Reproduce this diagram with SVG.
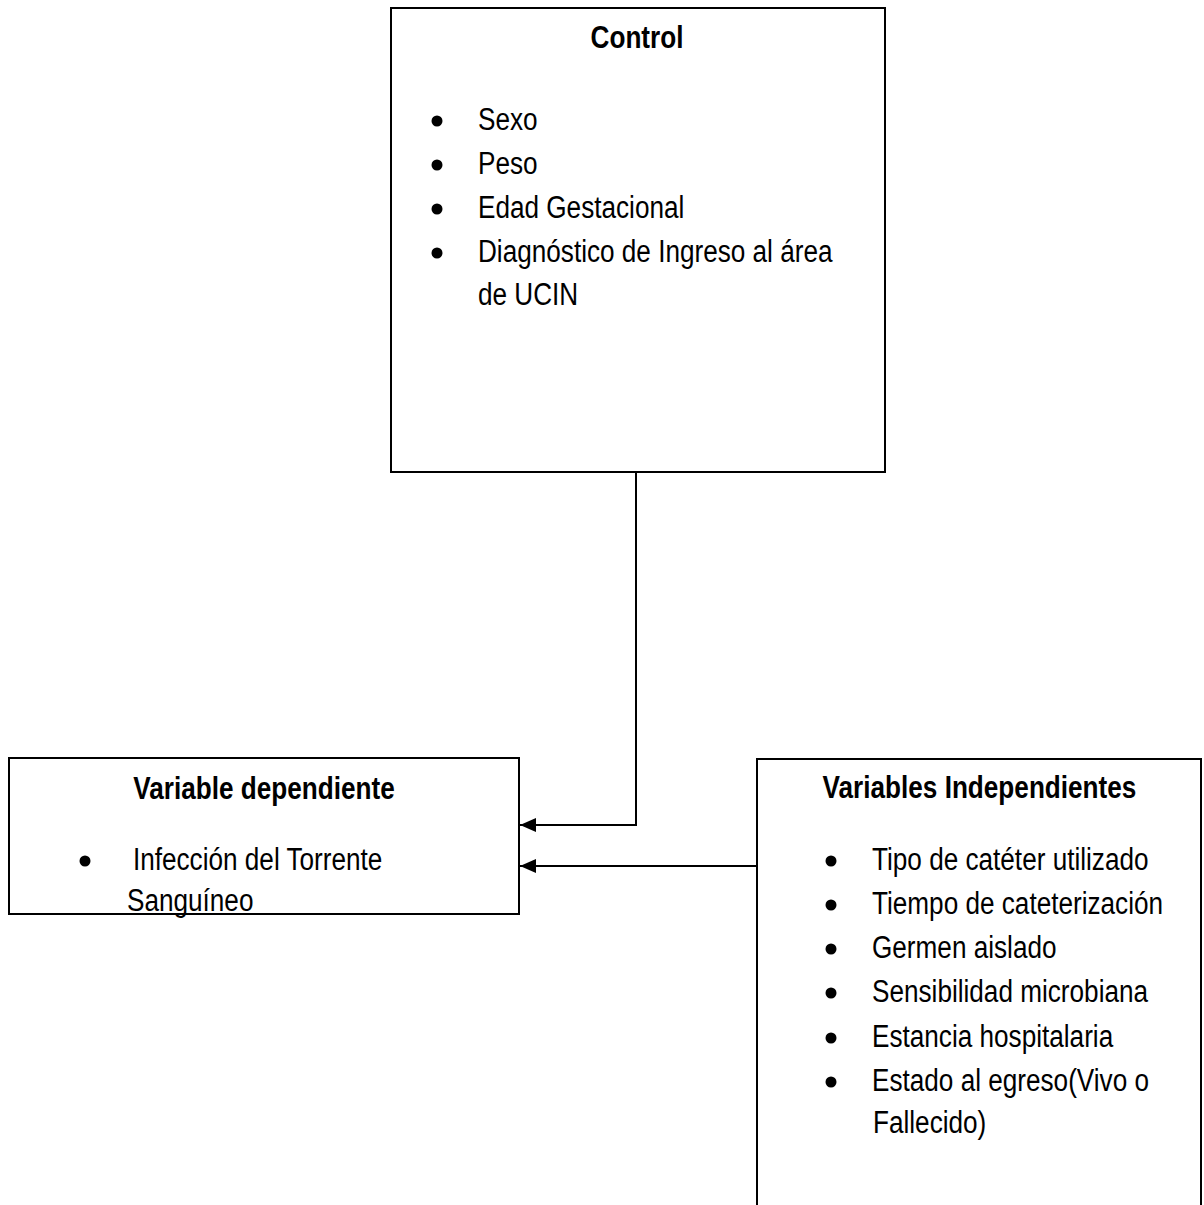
<svg xmlns="http://www.w3.org/2000/svg" width="1204" height="1205" viewBox="0 0 1204 1205">
  <style>
    .box { fill: #ffffff; stroke: #000000; stroke-width: 2; }
    .conn { fill: none; stroke: #000000; stroke-width: 2; }
    .t { font-family: "Liberation Sans", Arial, sans-serif; font-size: 31.5px; fill: #000000; }
    .b { font-weight: bold; text-anchor: middle; }
    .dot { fill: #000000; }
  </style>
  <defs>
    <marker id="arrow" markerUnits="userSpaceOnUse" markerWidth="16" markerHeight="14" refX="16" refY="7" orient="auto">
      <path d="M0,0 L16,7 L0,14 Z" fill="#000000"/>
    </marker>
  </defs>
  <rect width="1204" height="1205" fill="#ffffff"/>

  <g id="connectors">
    <path class="conn" d="M636 472 V825 H520" marker-end="url(#arrow)"/>
    <path class="conn" d="M757 866 H520" marker-end="url(#arrow)"/>
  </g>

  <g id="control">
    <rect class="box" x="391" y="8" width="494" height="464"/>
    <circle class="dot" cx="437" cy="121" r="5.5"/>
    <circle class="dot" cx="437" cy="165" r="5.5"/>
    <circle class="dot" cx="437" cy="209" r="5.5"/>
    <circle class="dot" cx="437" cy="253" r="5.5"/>
    <g transform="scale(0.83 1)">
      <text class="t b" x="767.5" y="48">Control</text>
      <text class="t" x="575.9" y="130">Sexo</text>
      <text class="t" x="575.9" y="174">Peso</text>
      <text class="t" x="575.9" y="218">Edad Gestacional</text>
      <text class="t" x="575.9" y="262">Diagnóstico de Ingreso al área</text>
      <text class="t" x="575.9" y="305">de UCIN</text>
    </g>
  </g>

  <g id="dependiente">
    <rect class="box" x="9" y="758" width="510" height="156"/>
    <circle class="dot" cx="85" cy="861" r="5.5"/>
    <g transform="scale(0.83 1)">
      <text class="t b" x="318.1" y="799">Variable dependiente</text>
      <text class="t" x="160.2" y="870">Infección del Torrente</text>
      <text class="t" x="153.0" y="911">Sanguíneo</text>
    </g>
  </g>

  <g id="independientes">
    <rect class="box" x="757" y="759" width="444" height="460"/>
    <circle class="dot" cx="831" cy="861" r="5.5"/>
    <circle class="dot" cx="831" cy="905" r="5.5"/>
    <circle class="dot" cx="831" cy="949" r="5.5"/>
    <circle class="dot" cx="831" cy="993" r="5.5"/>
    <circle class="dot" cx="831" cy="1038" r="5.5"/>
    <circle class="dot" cx="831" cy="1082" r="5.5"/>
    <g transform="scale(0.83 1)">
      <text class="t b" x="1180.1" y="798">Variables Independientes</text>
      <text class="t" x="1050.6" y="870">Tipo de catéter utilizado</text>
      <text class="t" x="1050.6" y="914">Tiempo de cateterización</text>
      <text class="t" x="1050.6" y="958">Germen aislado</text>
      <text class="t" x="1050.6" y="1002">Sensibilidad microbiana</text>
      <text class="t" x="1050.6" y="1047">Estancia hospitalaria</text>
      <text class="t" x="1050.6" y="1091">Estado al egreso(Vivo o</text>
      <text class="t" x="1051.8" y="1133">Fallecido)</text>
    </g>
  </g>
</svg>
